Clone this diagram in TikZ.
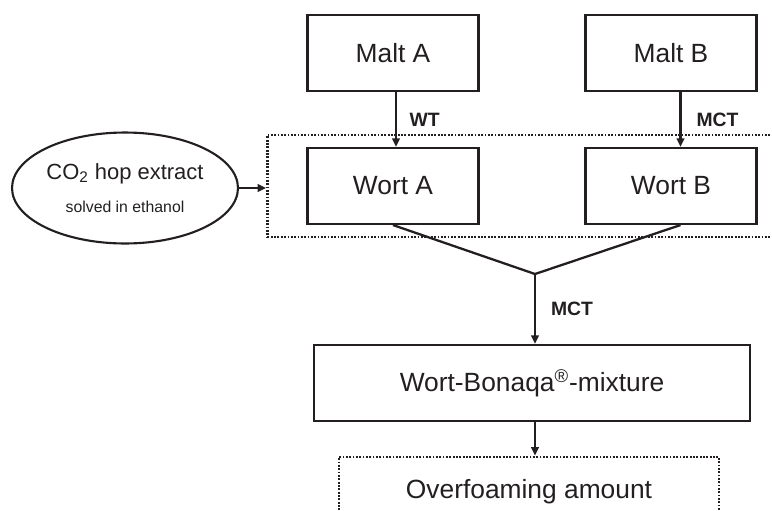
\documentclass[tikz,border=0pt]{standalone}
\usepackage{fontspec}
\setmainfont{Liberation Sans}
\usepackage{xcolor}
\definecolor{ink}{HTML}{231F20}
\usepackage{tikz}
\usetikzlibrary{positioning,fit,arrows.meta,shapes.geometric}

\begin{document}
\begin{tikzpicture}[
    x=0.02cm, y=-0.02cm,
    every node/.style={text=ink},
    box/.style={rectangle,draw=ink,line width=1.2pt,minimum width=3.42cm,minimum height=1.52cm,inner sep=0pt,font=\fontsize{15}{18}\selectfont},
    dotbox/.style={rectangle,draw=ink,line width=1.5pt,dash pattern=on 1pt off 0.9pt,inner sep=0pt},
    flow/.style={draw=ink,line width=1.3pt,-{Triangle[length=1.7mm,width=1.5mm]}},
    step label/.style={font=\fontsize{11}{13}\bfseries\selectfont,anchor=west,inner sep=0pt}
  ]
  \useasboundingbox (0,0) rectangle (772,511);

  % Malts and worts
  \node[box] (maltA) at (393,53) {Malt A};
  \node[box] (maltB) at (671,53) {Malt B};
  \node[box] (wortA) at (393,186) {Wort A};
  \node[box] (wortB) at (671,186) {Wort B};

  % Hop extract, dosed into both worts
  \node[ellipse,draw=ink,line width=1.2pt,minimum width=4.52cm,minimum height=2.22cm,inner sep=0pt,align=center] (hop) at (125,188)
    {{\fontsize{12.5}{15}\selectfont CO\textsubscript{2} hop extract}\\[7pt] {\fontsize{9}{11}\selectfont solved in ethanol}};
  \node[dotbox,fit=(wortA)(wortB),inner xsep=0.78cm,inner ysep=0.24cm] (worts) {};

  % Mixture and result
  \node[box,minimum width=8.72cm] (mix) at (532,383) {Wort-Bonaqa\textsuperscript{®}-mixture};
  \node[dotbox,minimum width=7.6cm,minimum height=1.4cm,font=\fontsize{15}{18}\selectfont] (foam) at (529,492) {Overfoaming amount};
  \coordinate (merge) at (535,274);

  % Connectors
  \draw[flow] ([xshift=0.06cm]maltA.south) -- ([xshift=0.06cm]wortA.north)
    node[step label,midway,right=0.25cm] (wt) {WT};
  \draw[flow] ([xshift=0.19cm]maltB.south) -- ([xshift=0.19cm]wortB.north)
    node[step label,midway,right=0.3cm] (mctB) {MCT};
  \draw[flow] (hop.east) -- (worts.west |- hop.east);
  \draw[draw=ink,line width=1.3pt] (wortA.south) -- (merge) -- ([xshift=0.19cm]wortB.south);
  \draw[flow] (merge) -- (merge |- mix.north)
    node[step label,midway,right=0.3cm] (mctM) {MCT};
  \draw[flow] (merge |- mix.south) -- (merge |- foam.north);
\end{tikzpicture}
\end{document}
